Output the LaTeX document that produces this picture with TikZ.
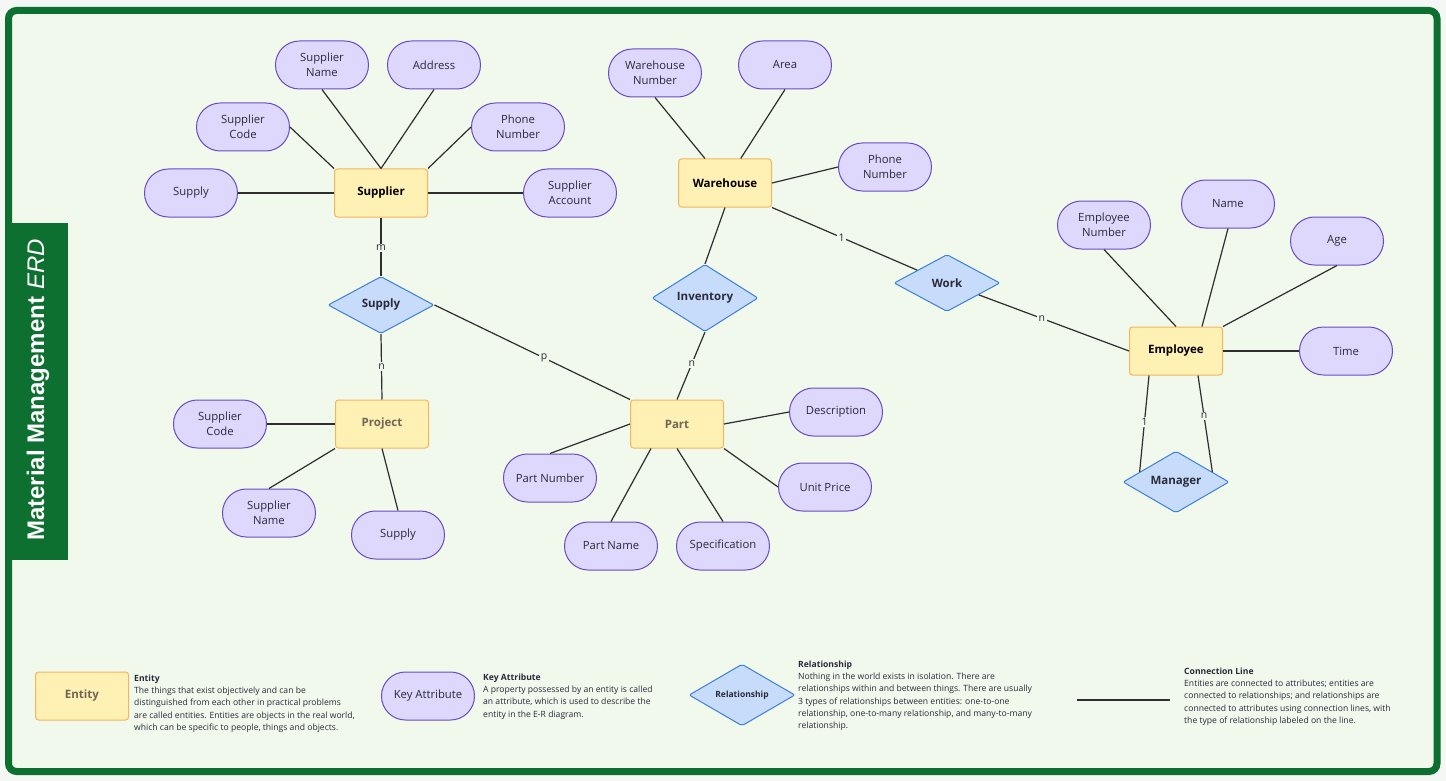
\documentclass[tikz,border=0pt]{standalone}
\usepackage{fontspec}
\setmainfont{Open Sans}
\newfontfamily\titlefont{Liberation Sans}
\usepackage{xcolor}
\usetikzlibrary{shapes.geometric,calc}

\definecolor{pagebg}{HTML}{F4F7F3}
\definecolor{innerbg}{HTML}{F1F8EC}
\definecolor{framegreen}{HTML}{0D7030}
\definecolor{entfill}{HTML}{FFF0B3}
\definecolor{entline}{HTML}{F2B65C}
\definecolor{entgray}{HTML}{6F6654}
\definecolor{attfill}{HTML}{DDD8FC}
\definecolor{attline}{HTML}{6A4CC0}
\definecolor{relfill}{HTML}{C7DCFA}
\definecolor{relline}{HTML}{3D80D6}
\definecolor{linkcol}{HTML}{2E2E2E}
\definecolor{txtcol}{HTML}{2A2A3A}

\begin{document}
\begin{tikzpicture}[
    x=1pt, y=-1pt,
    entity/.style={rectangle, draw=entline, fill=entfill, line width=1pt, rounded corners=3pt, minimum width=93pt, minimum height=48pt, font=\fontsize{11.5}{14}\selectfont\bfseries, text=black},
    attr/.style={rectangle, draw=attline, fill=attfill, line width=1pt, rounded corners=23.9pt, minimum width=93pt, minimum height=48pt, align=center, font=\fontsize{11.3}{15}\selectfont, text=txtcol},
    rel/.style={diamond, draw=relline, fill=relfill, line width=1pt, rounded corners=2pt, inner sep=0pt, minimum width=106pt, minimum height=57pt, font=\fontsize{11.5}{14}\selectfont\bfseries, text=txtcol},
    link/.style={draw=linkcol, line width=1.2pt},
    card/.style={fill=innerbg, inner sep=1.5pt, font=\fontsize{10.5}{12}\selectfont, text=txtcol},
    legtext/.style={anchor=north west, inner sep=0pt, align=left, font=\fontsize{8.6}{12.3}\selectfont, text=txtcol},
]
    \useasboundingbox (0,0) rectangle (1446,781);
    \fill[pagebg] (0,0) rectangle (1446,781);
    \draw[framegreen, fill=innerbg, line width=7pt, rounded corners=8pt] (8.5,10.5) rectangle (1437,771.5);
    \fill[framegreen] (5,223) rectangle (68,560);
    \node[rotate=90, text=white, font=\titlefont\fontsize{24}{26}\selectfont] (title) at (38,390) {\textbf{Material Management} \textit{ERD}};

    \node[entity] (supplier) at (381,193) {Supplier};
    \node[entity] (warehouse) at (725,183) {Warehouse};
    \node[entity, text=entgray] (project) at (382,424) {Project};
    \node[entity, text=entgray] (part) at (677,424) {Part};
    \node[entity] (employee) at (1176,351) {Employee};

    \node[rel] (supply) at (381,305) {Supply};
    \node[rel] (inventory) at (705,298) {Inventory};
    \node[rel] (work) at (947,283) {Work};
    \node[rel] (manager) at (1176,482) {Manager};

    \node[attr] (sname) at (322,65) {Supplier\\Name};
    \node[attr] (saddr) at (434,65) {Address};
    \node[attr] (scode) at (243,127) {Supplier\\Code};
    \node[attr] (sphone) at (518,127) {Phone\\Number};
    \node[attr] (ssupply) at (191,193) {Supply};
    \node[attr] (saccount) at (570,193) {Supplier\\Account};

    \node[attr] (wnum) at (655,73) {Warehouse\\Number};
    \node[attr] (warea) at (785,65) {Area};
    \node[attr] (wphone) at (885,167) {Phone\\Number};

    \node[attr] (enum) at (1104,225) {Employee\\Number};
    \node[attr] (ename) at (1228,204) {Name};
    \node[attr] (eage) at (1337,241) {Age};
    \node[attr] (etime) at (1346,351) {Time};

    \node[attr] (pjcode) at (220,424) {Supplier\\Code};
    \node[attr] (pjname) at (269,513) {Supplier\\Name};
    \node[attr] (pjsupply) at (398,535) {Supply};

    \node[attr] (ptnum) at (550,478) {Part Number};
    \node[attr] (ptname) at (611,546) {Part Name};
    \node[attr] (ptspec) at (723,546) {Specification};
    \node[attr] (ptdesc) at (836,412) {Description};
    \node[attr] (ptprice) at (825,487) {Unit Price};

    \draw[link] (ssupply.east) -- (supplier.west);
    \draw[link] (scode.east) -- (supplier.north west);
    \draw[link] (sname.south) -- (supplier.north);
    \draw[link] (saddr.south) -- (supplier.north);
    \draw[link] (sphone.west) -- (supplier.north east);
    \draw[link] (saccount.west) -- (supplier.east);

    \draw[link] (wnum.south) -- (warehouse);
    \draw[link] (warea.south) -- (warehouse);
    \draw[link] (wphone.west) -- (warehouse.east);

    \draw[link] (enum.south) -- (employee.north);
    \draw[link] (ename.south) -- ([xshift=26pt]employee.north);
    \draw[link] (eage.south) -- (employee.north east);
    \draw[link] (etime.west) -- (employee.east);

    \draw[link] (pjcode.east) -- (project.west);
    \draw[link] (pjname.north) -- (project.south west);
    \draw[link] (pjsupply.north) -- (project.south);

    \draw[link] (ptnum.north) -- (part.west);
    \draw[link] (ptname.north) -- ([xshift=-26pt]part.south);
    \draw[link] (ptspec.north) -- (part.south);
    \draw[link] (ptdesc.west) -- (part.east);
    \draw[link] (ptprice.west) -- (part.south east);

    \draw[link] (supplier.south) -- node[card, pos=0.52] {m} (supply.north);
    \draw[link] (supply.south) -- node[card, pos=0.5] {n} (project.north);
    \draw[link] (supply.east) -- node[card, pos=0.56] {p} (part.north west);
    \draw[link] (warehouse.south) -- (inventory.north);
    \draw[link] (inventory.south) -- node[card, pos=0.47] {n} (part.north);
    \draw[link] (warehouse.south east) -- node[card, pos=0.48] {1} (work);
    \draw[link] (work) -- node[card, pos=0.42] {n} (employee.west);
    \draw[link] ([xshift=-27pt]employee.south) -- node[card, pos=0.48] {1} ($(manager.west)!0.32!(manager.north)$);
    \draw[link] ([xshift=22pt]employee.south) -- node[card, pos=0.42] {n} ($(manager.east)!0.32!(manager.north)$);

    \node[entity, text=entgray] (lgentity) at (82,696) {Entity};
    \node[legtext] (lgentitytxt) at (134,674.5) {\textbf{Entity}\\The things that exist objectively and can be\\distinguished from each other in practical problems\\are called entities. Entities are objects in the real world,\\which can be specific to people, things and objects.};
    \node[attr] (lgattr) at (428,696) {Key Attribute};
    \node[legtext] (lgattrtxt) at (483,673.5) {\textbf{Key Attribute}\\A property possessed by an entity is called\\an attribute, which is used to describe the\\entity in the E-R diagram.};
    \node[rel, font=\fontsize{8.5}{10}\selectfont\bfseries] (lgrel) at (742,695) {Relationship};
    \node[legtext] (lgreltxt) at (798,660.5) {\textbf{Relationship}\\Nothing in the world exists in isolation. There are\\relationships within and between things. There are usually\\3 types of relationships between entities: one-to-one\\relationship, one-to-many relationship, and many-to-many\\relationship.};
    \coordinate (lglinea) at (1077,700);
    \coordinate (lglineb) at (1170,700);
    \draw[link] (lglinea) -- (lglineb);
    \node[legtext] (lglinetxt) at (1184,667.5) {\textbf{Connection Line}\\Entities are connected to attributes; entities are\\connected to relationships; and relationships are\\connected to attributes using connection lines, with\\the type of relationship labeled on the line.};
\end{tikzpicture}
\end{document}
